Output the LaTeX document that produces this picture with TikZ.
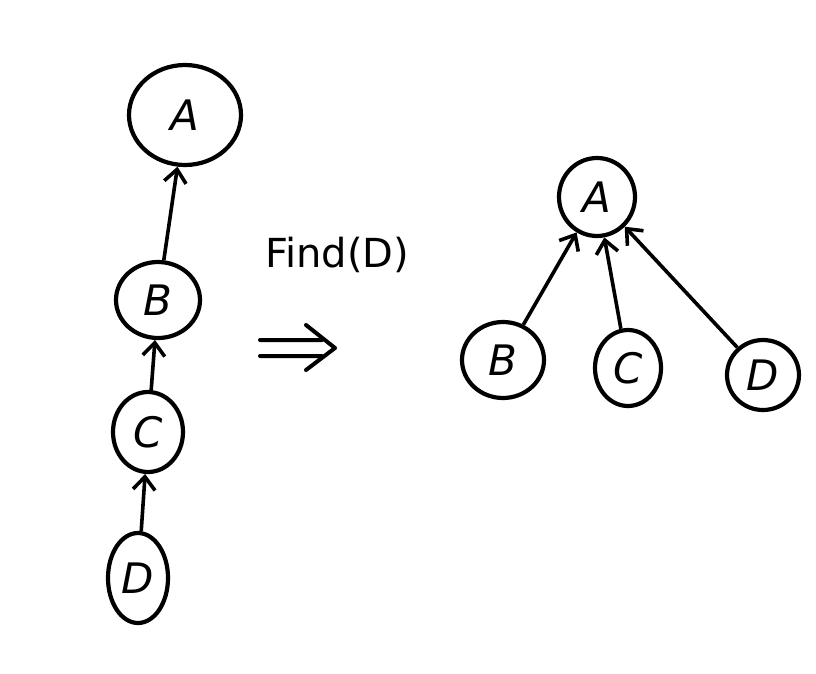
\documentclass[tikz,border=0pt]{standalone}
\usepackage{fontspec}
\setmainfont{DejaVu Sans}
\usetikzlibrary{shapes.geometric,arrows.meta}
\begin{document}
\begin{tikzpicture}[x=1pt,y=-1pt,
  nd/.style={draw,ellipse,line width=4.2pt,inner sep=0pt,font=\fontsize{42}{50}\selectfont\itshape},
  ar/.style={line width=3.6pt,-{Straight Barb[length=13pt,width=22pt,line width=3.6pt]}},
  lbl/.style={font=\fontsize{40}{48}\selectfont}]
\useasboundingbox (0,0) rectangle (816,674);
% left chain
\node[nd,minimum width=112pt,minimum height=100pt] (A1) at (185,115) {A};
\node[nd,minimum width=84pt,minimum height=76pt] (B1) at (158,300) {B};
\node[nd,minimum width=70pt,minimum height=80pt] (C1) at (148,432) {C};
\node[nd,minimum width=60pt,minimum height=90pt] (D1) at (138,578) {D};
\draw[ar] (B1) -- (A1);
\draw[ar] (C1) -- (B1);
\draw[ar] (D1) -- (C1);
% label
\node[lbl] (F) at (337,255) {Find(D)};
\coordinate (i1) at (260,340);
\coordinate (i2) at (322,340);
\coordinate (i3) at (260,356);
\coordinate (i4) at (322,356);
\coordinate (t1) at (306,325);
\coordinate (t2) at (335,348);
\coordinate (t3) at (306,370);
\draw[line width=4pt,line cap=round,line join=round] (i1) -- (i2) (i3) -- (i4) (t1) -- (t2) -- (t3);
% right tree
\node[nd,minimum width=76pt,minimum height=78pt] (A2) at (597,197) {A};
\node[nd,minimum width=82pt,minimum height=76pt] (B2) at (503,360) {B};
\node[nd,minimum width=66pt,minimum height=76pt] (C2) at (628,368) {C};
\node[nd,minimum width=72pt,minimum height=70pt] (D2) at (763,375) {D};
\draw[ar] (B2) -- (A2);
\draw[ar] (C2) -- (A2);
\draw[ar] (D2) -- (A2);
\end{tikzpicture}
\end{document}
